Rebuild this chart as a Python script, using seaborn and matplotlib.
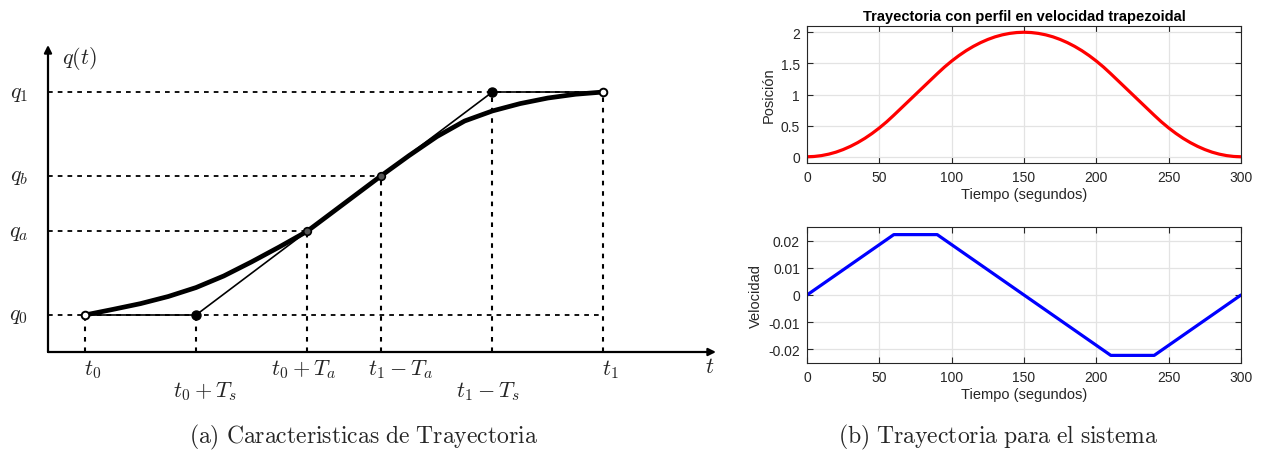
import matplotlib
matplotlib.use("Agg")
import matplotlib.pyplot as plt
import seaborn as sns
import pandas as pd
from matplotlib.ticker import FuncFormatter

# ---------------- data: left schematic ----------------
t_ticks = [0.0, 1.0, 2.0, 2.67, 3.67, 4.67]          # t0, t0+Ts, t0+Ta, t1-Ta, t1-Ts, t1
t_tick_labels = [r"$t_0$", r"$t_0+T_s$", r"$t_0+T_a$", r"$t_1-T_a$", r"$t_1-T_s$", r"$t_1$"]
q_levels = [0.0, 0.375, 0.625, 1.0]                  # q0, qa, qb, q1
q_labels = [r"$q_0$", r"$q_a$", r"$q_b$", r"$q_1$"]
curve_t = [0.0, 0.25, 0.5, 0.75, 1.0, 1.25, 1.5, 1.75, 2.0,
           2.67, 2.92, 3.17, 3.42, 3.67, 3.92, 4.17, 4.42, 4.67]
curve_q = [0.0, 0.025, 0.051, 0.083, 0.123, 0.175, 0.238, 0.305, 0.375,
           0.625, 0.715, 0.800, 0.870, 0.915, 0.948, 0.973, 0.990, 1.0]

# ---------------- data: right panels ----------------
time_pos = list(range(0, 305, 5))
position = [0.0, 0.005, 0.019, 0.042, 0.074, 0.116, 0.167, 0.227, 0.296, 0.375, 0.463,
            0.560, 0.667, 0.778, 0.889, 1.0, 1.111, 1.222, 1.333, 1.440, 1.537, 1.625,
            1.704, 1.773, 1.833, 1.884, 1.926, 1.958, 1.981, 1.995, 2.0,
            1.995, 1.981, 1.958, 1.926, 1.884, 1.833, 1.773, 1.704, 1.625, 1.537,
            1.440, 1.333, 1.222, 1.111, 1.0, 0.889, 0.778, 0.667, 0.560, 0.463,
            0.375, 0.296, 0.227, 0.167, 0.116, 0.074, 0.042, 0.019, 0.005, 0.0]
time_vel = [0, 60, 90, 210, 240, 300]
velocity = [0.0, 0.0222, 0.0222, -0.0222, -0.0222, 0.0]
pos_yticks = [0, 0.5, 1, 1.5, 2]
vel_yticks = [-0.02, -0.01, 0, 0.01, 0.02]
x_ticks = [0, 50, 100, 150, 200, 250, 300]

sns.set_theme(style="white")
plt.rcParams["font.family"] = ["Liberation Sans", "DejaVu Sans"]
plt.rcParams["mathtext.fontset"] = "cm"
plt.rcParams["axes.unicode_minus"] = False

W, H = 1266, 460
fig = plt.figure(figsize=(W / 100, H / 100), dpi=100)

def frac_rect(x0, y0, x1, y1):
    return [x0 / W, 1 - y1 / H, (x1 - x0) / W, (y1 - y0) / H]

# ---------------- left schematic ----------------
axL = fig.add_axes(frac_rect(0, 30, 740, 410))
px0, pxs = 85, 111.0      # pixel of t=0, pixels per unit
py0, pys = 316, 223.0     # pixel of q=0, pixels per unit
axL.set_xlim((0 - px0) / pxs, (740 - px0) / pxs)
axL.set_ylim((py0 - 410) / pys, (py0 - 30) / pys)
axL.axis("off")

tx = lambda p: (p - px0) / pxs
qy = lambda p: (py0 - p) / pys
ax_t, ax_q = tx(48), qy(353)

# axes arrows
arrow_kw = dict(arrowstyle="-|>", color="black", lw=1.6, mutation_scale=11, shrinkA=0, shrinkB=0)
axL.annotate("", xy=(ax_t, qy(46)), xytext=(ax_t, ax_q), arrowprops=arrow_kw)
axL.annotate("", xy=(tx(716), ax_q), xytext=(ax_t, ax_q), arrowprops=arrow_kw)

dash = (0, (2.6, 2.8))
# horizontal guides
h_ends = [t_ticks[5], t_ticks[2], t_ticks[3], t_ticks[5]]
for q, te in zip(q_levels, h_ends):
    axL.plot([ax_t, te], [q, q], color="black", lw=1.3, linestyle=dash)
# vertical guides
v_tops = [q_levels[0], q_levels[0], q_levels[1], q_levels[2], q_levels[3], q_levels[3]]
for t, qt in zip(t_ticks, v_tops):
    axL.plot([t, t], [ax_q, qt], color="black", lw=1.5, linestyle=(0, (2.2, 2.8)))

# thin piecewise line
thin = pd.DataFrame({"t": [t_ticks[0], t_ticks[1], t_ticks[4], t_ticks[5]],
                     "q": [q_levels[0], q_levels[0], q_levels[3], q_levels[3]]})
sns.lineplot(data=thin, x="t", y="q", sort=False, ax=axL, color="black", lw=1.2)
# thick trajectory
thick = pd.DataFrame({"t": curve_t, "q": curve_q})
sns.lineplot(data=thick, x="t", y="q", sort=False, ax=axL, color="black", lw=3.4,
             solid_capstyle="round", solid_joinstyle="round")

# markers
axL.plot([t_ticks[0], t_ticks[5]], [q_levels[0], q_levels[3]], "o", ms=5.5,
         mfc="white", mec="black", mew=1.4)
axL.plot([t_ticks[1], t_ticks[4]], [q_levels[0], q_levels[3]], "o", ms=6.5,
         mfc="black", mec="black")
axL.plot([t_ticks[2], t_ticks[3]], [q_levels[1], q_levels[2]], "o", ms=5.5,
         mfc="#555555", mec="black", mew=1.2)

# labels
lab_dx = [8, 9, -3, 19, -5, 7]
lab_y = [370, 392, 370, 370, 392, 370]
for t, lab, dx, ly in zip(t_ticks, t_tick_labels, lab_dx, lab_y):
    axL.text(t + dx / pxs, qy(ly), lab, ha="center", va="center", fontsize=16)
for q, lab in zip(q_levels, q_labels):
    axL.text(tx(19), q, lab, ha="center", va="center", fontsize=16)
axL.text(tx(80), qy(59), r"$q(t)$", ha="center", va="center", fontsize=16)
axL.text(tx(710), qy(368), r"$t$", ha="center", va="center", fontsize=16)

# ---------------- right panels ----------------
def matlab_style(ax):
    ax.set_facecolor("white")
    ax.grid(True, color="#e3e3e3", lw=0.9)
    ax.set_axisbelow(True)
    for s in ax.spines.values():
        s.set_visible(True)
        s.set_color("#262626")
        s.set_linewidth(0.8)
    ax.tick_params(direction="in", length=4, width=0.8, top=True, right=True,
                   bottom=True, left=True, labelsize=10, colors="#262626", pad=5)
    ax.set_xlim(0, 300)
    ax.set_xticks(x_ticks)

ax1 = fig.add_axes(frac_rect(807, 27, 1241, 164))
sns.lineplot(x=time_pos, y=position, ax=ax1, color="#ff0000", lw=2.3)
matlab_style(ax1)
ax1.set_ylim(-0.1, 2.1)
ax1.set_yticks(pos_yticks)
ax1.yaxis.set_major_formatter(FuncFormatter(lambda v, p: "%g" % v))
ax1.set_xlabel("Tiempo (segundos)", fontsize=10.5, color="#262626", labelpad=2)
ax1.set_ylabel("Posición", fontsize=10.5, color="#262626", labelpad=4)
ax1.set_title("Trayectoria con perfil en velocidad trapezoidal", fontsize=10.5,
              fontweight="bold", color="black", pad=4)

ax2 = fig.add_axes(frac_rect(807, 228, 1241, 364))
sns.lineplot(x=time_vel, y=velocity, ax=ax2, color="#0000ff", lw=2.3)
matlab_style(ax2)
ax2.set_ylim(-0.025, 0.025)
ax2.set_yticks(vel_yticks)
ax2.yaxis.set_major_formatter(FuncFormatter(lambda v, p: "%g" % v))
ax2.set_xlabel("Tiempo (segundos)", fontsize=10.5, color="#262626", labelpad=2)
ax2.set_ylabel("Velocidad", fontsize=10.5, color="#262626", labelpad=4)

# captions
fig.text(363.5 / W, 1 - 437 / H, r"$\mathrm{(a)\ Caracteristicas\ de\ Trayectoria}$",
         ha="center", va="center", fontsize=17)
fig.text(998 / W, 1 - 437 / H, r"$\mathrm{(b)\ Trayectoria\ para\ el\ sistema}$",
         ha="center", va="center", fontsize=17)

fig.savefig("out.png", dpi=100)
